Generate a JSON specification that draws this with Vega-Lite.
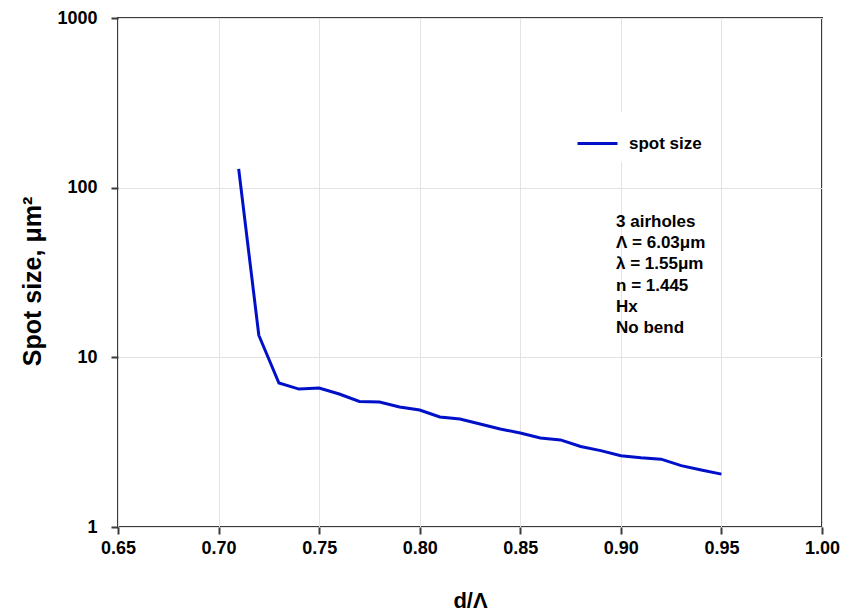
{
  "$schema": "https://vega.github.io/schema/vega-lite/v6.json",
  "width": 704,
  "height": 509,
  "autosize": {"type": "none"},
  "padding": {"left": 118, "top": 18, "right": 21, "bottom": 87},
  "background": "white",
  "config": {
    "view": {"stroke": "#3a3a3a", "strokeWidth": 2},
    "font": "Liberation Sans"
  },
  "layer": [
    {
      "data": {
        "values": [
          {"d": 0.71, "spot": 129},
          {"d": 0.72, "spot": 13.5},
          {"d": 0.73, "spot": 7.06},
          {"d": 0.74, "spot": 6.5},
          {"d": 0.75, "spot": 6.6},
          {"d": 0.76, "spot": 6.08},
          {"d": 0.77, "spot": 5.5},
          {"d": 0.78, "spot": 5.45},
          {"d": 0.79, "spot": 5.1},
          {"d": 0.80, "spot": 4.89},
          {"d": 0.81, "spot": 4.45},
          {"d": 0.82, "spot": 4.33},
          {"d": 0.83, "spot": 4.05},
          {"d": 0.84, "spot": 3.78},
          {"d": 0.85, "spot": 3.58},
          {"d": 0.86, "spot": 3.35},
          {"d": 0.87, "spot": 3.26},
          {"d": 0.88, "spot": 2.98},
          {"d": 0.89, "spot": 2.82},
          {"d": 0.90, "spot": 2.63},
          {"d": 0.91, "spot": 2.56},
          {"d": 0.92, "spot": 2.51},
          {"d": 0.93, "spot": 2.3},
          {"d": 0.94, "spot": 2.17},
          {"d": 0.95, "spot": 2.05}
        ]
      },
      "mark": {"type": "line", "strokeWidth": 3},
      "encoding": {
        "x": {
          "field": "d",
          "type": "quantitative",
          "scale": {"domain": [0.65, 1.0], "nice": false, "zero": false},
          "axis": {
            "values": [0.65, 0.7, 0.75, 0.8, 0.85, 0.9, 0.95, 1.0],
            "format": ".2f",
            "title": "d/Λ",
            "labelFontSize": 18,
            "labelFontWeight": "bold",
            "labelColor": "black",
            "labelPadding": 5,
            "labelOverlap": false,
            "labelFlush": false,
            "tickSize": 7,
            "tickColor": "#3a3a3a",
            "tickWidth": 2,
            "domain": false,
            "grid": true,
            "gridColor": "#e3e3e3",
            "titleFontSize": 22,
            "titleFontWeight": "bold",
            "titleColor": "black",
            "titleY": 80,
            "titleBaseline": "alphabetic"
          }
        },
        "y": {
          "field": "spot",
          "type": "quantitative",
          "scale": {"type": "log", "domain": [1, 1000], "nice": false},
          "axis": {
            "values": [1, 10, 100, 1000],
            "format": "d",
            "title": "Spot size, μm²",
            "labelFontSize": 18,
            "labelFontWeight": "bold",
            "labelColor": "black",
            "labelPadding": 14,
            "tickSize": 7,
            "tickColor": "#3a3a3a",
            "tickWidth": 2,
            "domain": false,
            "grid": true,
            "gridColor": "#e3e3e3",
            "titleFontSize": 25,
            "titleFontWeight": "bold",
            "titleColor": "black",
            "titleAngle": -90,
            "titleAlign": "center",
            "titleBaseline": "alphabetic",
            "titleX": -78,
            "titleY": 263
          }
        },
        "color": {
          "datum": "spot size",
          "type": "nominal",
          "scale": {"range": ["#0010C8"]},
          "legend": {
            "orient": "none",
            "legendX": 448,
            "legendY": 94,
            "title": null,
            "symbolType": "stroke",
            "symbolSize": 1600,
            "symbolStrokeWidth": 3,
            "labelFontSize": 17,
            "labelFontWeight": "bold",
            "labelColor": "black",
            "labelOffset": 10,
            "fillColor": "white",
            "padding": 10
          }
        }
      }
    },
    {
      "data": {"values": [{"note": ["3 airholes", "Λ = 6.03μm", "λ = 1.55μm", "n = 1.445", "Hx", "No bend"]}]},
      "mark": {
        "type": "text",
        "align": "left",
        "baseline": "alphabetic",
        "fontSize": 17,
        "fontWeight": "bold",
        "lineHeight": 21.2,
        "color": "black"
      },
      "encoding": {
        "x": {"datum": 0.8976},
        "y": {"datum": 58.6},
        "text": {"field": "note"}
      }
    }
  ]
}
